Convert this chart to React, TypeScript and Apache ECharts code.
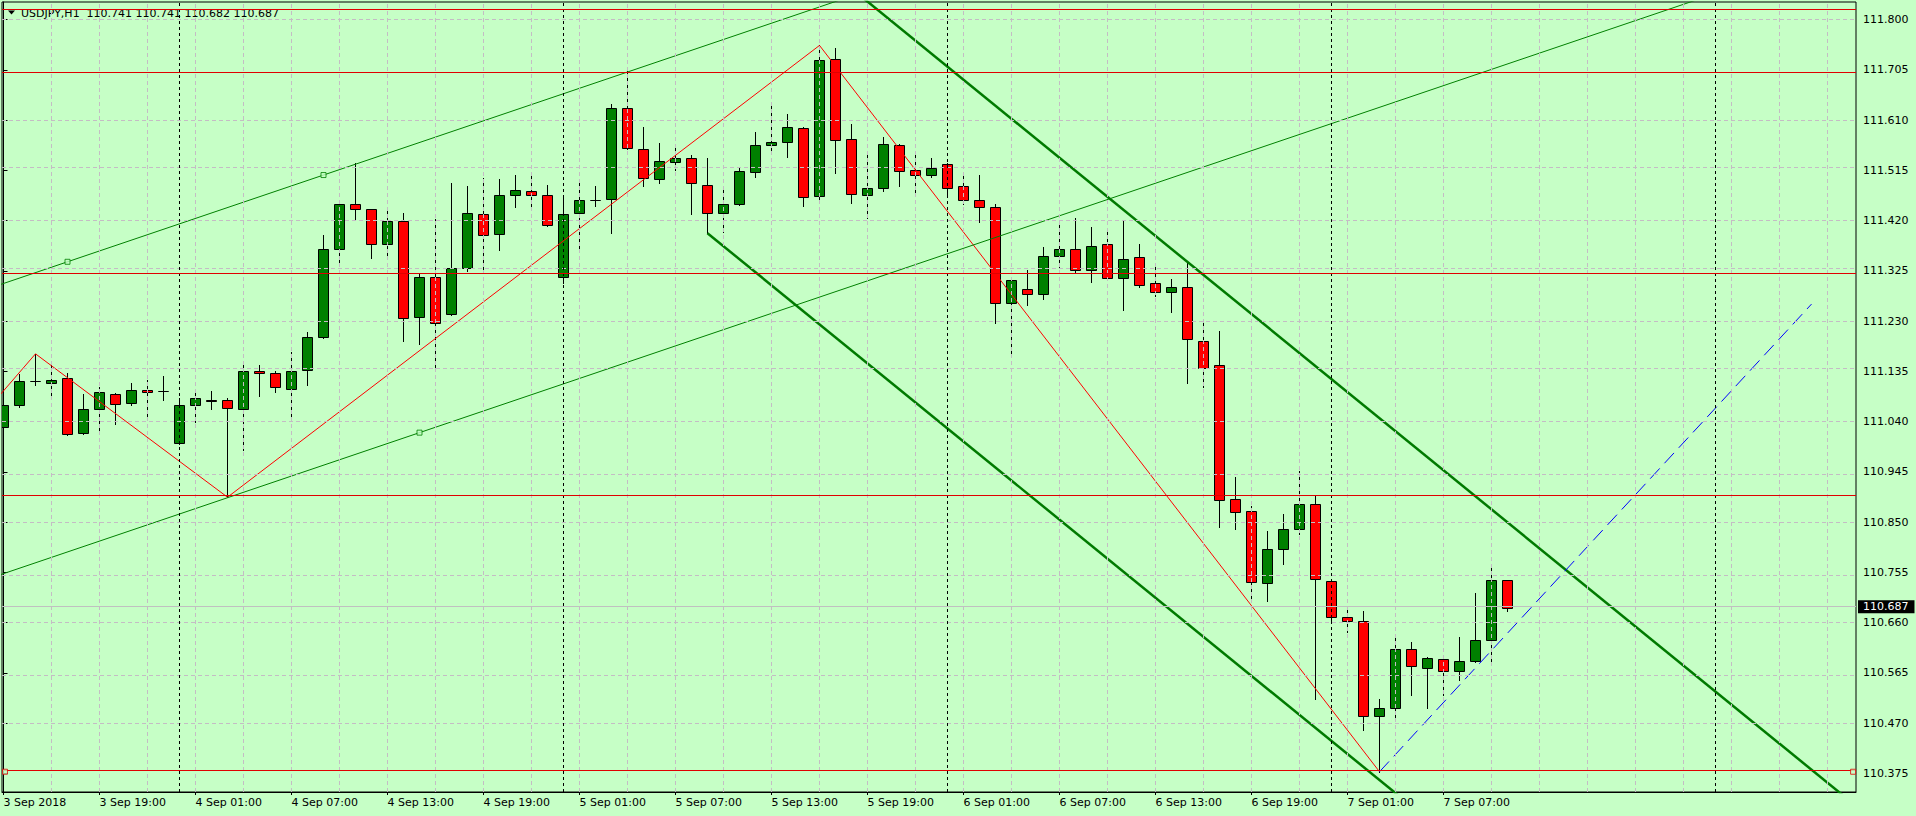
import React, { useEffect, useRef } from "react";
import * as echarts from "echarts";

// ---- data (USDJPY H1, hours counted from 3 Sep 2018 13:00) ----
const TITLE = "USDJPY,H1  110.741 110.741 110.682 110.687";

const opens = [
  111.030, 111.071, 111.116, 111.113, 111.122, 111.018, 111.063, 111.093, 111.076, 111.099,
  111.097, 110.999, 111.071, 111.081, 111.080, 111.063, 111.135, 111.131, 111.101, 111.137,
  111.199, 111.367, 111.451, 111.441, 111.375, 111.420, 111.237, 111.313, 111.243, 111.330,
  111.432, 111.394, 111.468, 111.475, 111.469, 111.313, 111.434, 111.458, 111.460, 111.632,
  111.556, 111.498, 111.530, 111.539, 111.488, 111.434, 111.451, 111.511, 111.562, 111.568,
  111.594, 111.466, 111.725, 111.575, 111.469, 111.481, 111.562, 111.515, 111.507, 111.526,
  111.486, 111.458, 111.445, 111.265, 111.290, 111.281, 111.352, 111.367, 111.326, 111.375,
  111.312, 111.351, 111.301, 111.285, 111.294, 111.193, 111.146, 110.893, 110.871, 110.734,
  110.799, 110.837, 110.885, 110.738, 110.670, 110.663, 110.484, 110.499, 110.610, 110.575,
  110.591, 110.568, 110.587, 110.627, 110.741,
];
const highs = [
  111.118, 111.130, 111.168, 111.146, 111.132, 111.093, 111.106, 111.094, 111.112, 111.118,
  111.127, 111.084, 111.101, 111.097, 111.084, 111.146, 111.146, 111.135, 111.171, 111.210,
  111.392, 111.458, 111.528, 111.442, 111.445, 111.435, 111.320, 111.422, 111.490, 111.485,
  111.500, 111.498, 111.507, 111.504, 111.487, 111.469, 111.494, 111.485, 111.641, 111.708,
  111.596, 111.566, 111.560, 111.543, 111.538, 111.483, 111.519, 111.587, 111.638, 111.621,
  111.596, 111.751, 111.747, 111.602, 111.551, 111.577, 111.564, 111.543, 111.539, 111.528,
  111.507, 111.507, 111.451, 111.311, 111.326, 111.370, 111.418, 111.424, 111.408, 111.400,
  111.419, 111.375, 111.332, 111.309, 111.341, 111.230, 111.211, 110.935, 110.881, 110.834,
  110.865, 110.947, 110.901, 110.740, 110.683, 110.682, 110.516, 110.631, 110.623, 110.594,
  110.597, 110.633, 110.716, 110.767, 110.741,
];
const lows = [
  111.014, 111.068, 111.110, 111.091, 111.014, 111.016, 111.021, 111.035, 111.071, 111.049,
  111.081, 110.998, 111.040, 111.063, 110.897, 110.987, 111.089, 111.095, 111.051, 111.110,
  111.197, 111.339, 111.423, 111.350, 111.348, 111.193, 111.187, 111.140, 111.242, 111.324,
  111.321, 111.365, 111.445, 111.444, 111.409, 111.301, 111.365, 111.447, 111.396, 111.556,
  111.486, 111.490, 111.515, 111.432, 111.396, 111.399, 111.449, 111.502, 111.551, 111.541,
  111.447, 111.454, 111.509, 111.454, 111.424, 111.475, 111.486, 111.471, 111.502, 111.464,
  111.451, 111.418, 111.227, 111.165, 111.261, 111.271, 111.331, 111.323, 111.304, 111.307,
  111.250, 111.295, 111.278, 111.248, 111.112, 111.105, 110.840, 110.836, 110.705, 110.700,
  110.770, 110.828, 110.515, 110.659, 110.642, 110.457, 110.378, 110.475, 110.524, 110.498,
  110.524, 110.551, 110.585, 110.588, 110.682,
];
const closes = [
  111.071, 111.116, 111.116, 111.118, 111.016, 111.063, 111.095, 111.074, 111.099, 111.095,
  111.097, 111.071, 111.084, 111.078, 111.065, 111.135, 111.131, 111.105, 111.135, 111.199,
  111.367, 111.451, 111.441, 111.375, 111.420, 111.235, 111.313, 111.227, 111.331, 111.434,
  111.392, 111.469, 111.477, 111.469, 111.411, 111.432, 111.458, 111.459, 111.632, 111.558,
  111.500, 111.532, 111.539, 111.490, 111.434, 111.452, 111.513, 111.562, 111.568, 111.596,
  111.464, 111.723, 111.572, 111.471, 111.481, 111.564, 111.513, 111.507, 111.520, 111.481,
  111.458, 111.445, 111.265, 111.307, 111.281, 111.352, 111.367, 111.326, 111.371, 111.312,
  111.348, 111.299, 111.285, 111.294, 111.196, 111.141, 110.891, 110.869, 110.736, 110.799,
  110.837, 110.885, 110.742, 110.670, 110.663, 110.484, 110.498, 110.610, 110.578, 110.593,
  110.568, 110.587, 110.627, 110.740, 110.687,
];

const timeTickHours = [0, 6, 12, 18, 24, 30, 36, 42, 48, 54, 60, 66, 72, 78, 84, 90];
const timeTickLabels = [
  "3 Sep 2018", "3 Sep 19:00", "4 Sep 01:00", "4 Sep 07:00", "4 Sep 13:00", "4 Sep 19:00",
  "5 Sep 01:00", "5 Sep 07:00", "5 Sep 13:00", "5 Sep 19:00", "6 Sep 01:00", "6 Sep 07:00",
  "6 Sep 13:00", "6 Sep 19:00", "7 Sep 01:00", "7 Sep 07:00",
];
const priceTicks = [
  110.375, 110.47, 110.565, 110.66, 110.755, 110.85, 110.945, 111.04,
  111.135, 111.23, 111.325, 111.42, 111.515, 111.61, 111.705, 111.8,
];
const gridHours = [
  3, 6, 9, 12, 15, 18, 21, 24, 27, 30, 33, 36, 39, 42, 45, 48, 51, 54, 57, 60,
  63, 66, 69, 72, 75, 78, 81, 84, 87, 90, 93, 96, 99, 102, 105, 108, 111, 114,
];
const daySeparatorHours = [11, 35, 59, 83, 107];
const levelPrices = [111.823, 111.699, 111.321, 110.897, 110.378];
const bidPrice = 110.687;

const zigzagHours = [-1, 2, 14, 51, 86];
const zigzagPrices = [111.063, 111.168, 110.897, 111.751, 110.378];

// rising channel anchors: two on the upper line, one on the lower line
const upChannelHours = [4, 20, 26];
const upChannelPrices = [111.342, 111.506, 111.019];
// falling channel anchors: two on the upper line, one on the lower line
const downChannelHours = [44, 80, 44];
const downChannelPrices = [112.08, 111.194, 111.396];
// blue dashed trend line
const trendHours = [86, 113];
const trendPrices = [110.378, 111.262];
// selection handles of the 110.378 level
const levelHandleHours = [0.09, 115.6];

const FONT = "DejaVu Sans";
const BG = "#C6FFC6";
const GRID_COLOR = "#C4BCC4";

function rayPoints(t0: number, p0: number, slope: number, from: number, to: number) {
  return [
    [from, p0 + slope * (from - t0)],
    [to, p0 + slope * (to - t0)],
  ];
}

export default function App() {
  const ref = useRef<HTMLDivElement>(null);

  useEffect(() => {
    if (!ref.current) return;
    const chart = echarts.init(ref.current, undefined, { renderer: "svg" });

    const candles = opens.map((o, i) => [i, o, highs[i], lows[i], closes[i]]);

    const upSlope = (upChannelPrices[1] - upChannelPrices[0]) / (upChannelHours[1] - upChannelHours[0]);
    const dnSlope = (downChannelPrices[1] - downChannelPrices[0]) / (downChannelHours[1] - downChannelHours[0]);

    const lineA = rayPoints(upChannelHours[0], upChannelPrices[0], upSlope, -2, 60);
    const lineB = rayPoints(upChannelHours[2], upChannelPrices[2], upSlope, -2, 130);
    const lineC = rayPoints(downChannelHours[0], downChannelPrices[0], dnSlope, downChannelHours[0], 130);
    const lineD = rayPoints(downChannelHours[2], downChannelPrices[2], dnSlope, downChannelHours[2], 130);

    const noLabel = { show: false };
    const option: any = {
      animation: false,
      backgroundColor: BG,
      textStyle: { fontFamily: FONT },
      grid: {
        left: 2,
        top: 2,
        width: 1854,
        height: 790,
        show: true,
        borderColor: "#000",
        borderWidth: 1,
        backgroundColor: "transparent",
      },
      xAxis: {
        type: "value",
        min: -0.09375,
        max: 115.78125,
        position: "bottom",
        axisLine: { show: true, lineStyle: { color: "#000", width: 1 } },
        axisTick: {
          show: true,
          customValues: timeTickHours,
          length: 3,
          lineStyle: { color: "#000" },
        },
        axisLabel: {
          show: true,
          customValues: timeTickHours,
          formatter: (v: number) => {
            const i = timeTickHours.indexOf(Math.round(v));
            return i >= 0 ? timeTickLabels[i] : "";
          },
          align: "left",
          color: "#000",
          fontFamily: FONT,
          fontSize: 11,
          margin: 5,
        },
        splitLine: { show: false },
      },
      yAxis: {
        type: "value",
        position: "right",
        min: 110.3397,
        max: 111.8331,
        axisLine: { show: true, lineStyle: { color: "#000", width: 1 } },
        axisTick: {
          show: true,
          customValues: priceTicks,
          length: 4,
          lineStyle: { color: "#000" },
        },
        axisLabel: {
          show: true,
          customValues: priceTicks,
          formatter: (v: number) => v.toFixed(3),
          align: "left",
          color: "#000",
          fontFamily: FONT,
          fontSize: 11,
          margin: 7,
        },
        splitLine: { show: false },
      },
      graphic: [
        {
          type: "polygon",
          shape: { points: [[8, 10.5], [15, 10.5], [11.5, 14.5]] },
          style: { fill: "#000" },
        },
        {
          type: "text",
          x: 21,
          y: 13,
          style: {
            text: TITLE,
            fontFamily: FONT,
            fontSize: 11,
            fill: "#000",
            verticalAlign: "middle",
            align: "left",
          },
        },
      ],
      series: [
        {
          name: "grid",
          type: "line",
          data: [],
          z: 1,
          silent: true,
          markLine: {
            silent: true,
            symbol: ["none", "none"],
            label: noLabel,
            lineStyle: { color: GRID_COLOR, type: [4, 3], width: 1 },
            data: [
              ...gridHours.map((h) => ({ xAxis: h })),
              ...priceTicks.map((p) => ({ yAxis: p })),
            ],
          },
        },
        {
          name: "separators",
          type: "line",
          data: [],
          z: 1,
          silent: true,
          markLine: {
            silent: true,
            symbol: ["none", "none"],
            label: noLabel,
            lineStyle: { color: "#000", type: [3, 3], width: 1 },
            data: daySeparatorHours.map((h) => ({ xAxis: h })),
          },
        },
        {
          name: "bid",
          type: "line",
          data: [],
          z: 1,
          silent: true,
          markLine: {
            silent: true,
            symbol: ["none", "none"],
            lineStyle: { color: "#C0C0C0", type: "solid", width: 1 },
            label: {
              show: true,
              position: "end",
              formatter: bidPrice.toFixed(3),
              color: "#fff",
              backgroundColor: "#000",
              fontFamily: FONT,
              fontSize: 11,
              padding: [1, 6, 1, 5],
              distance: 2,
            },
            data: [{ yAxis: bidPrice }],
          },
        },
        {
          name: "candles",
          type: "custom",
          z: 2,
          clip: true,
          silent: true,
          encode: { x: 0, y: [1, 2, 3, 4] },
          data: candles,
          renderItem: (params: any, api: any) => {
            const t = api.value(0);
            const o = api.value(1);
            const h = api.value(2);
            const l = api.value(3);
            const c = api.value(4);
            const pO = api.coord([t, o]);
            const pC = api.coord([t, c]);
            const pH = api.coord([t, h]);
            const pL = api.coord([t, l]);
            const x = Math.floor(pO[0]) + 0.5;
            const top = Math.round(Math.min(pO[1], pC[1])) + 0.5;
            const bot = Math.round(Math.max(pO[1], pC[1])) + 0.5;
            const up = c >= o;
            return {
              type: "group",
              children: [
                {
                  type: "line",
                  shape: { x1: x, y1: Math.round(pH[1]), x2: x, y2: Math.round(pL[1]) + 1 },
                  style: { stroke: "#000", lineWidth: 1 },
                },
                {
                  type: "rect",
                  shape: { x: x - 5, y: top, width: 10, height: bot - top },
                  style: { fill: up ? "#008000" : "#FF0000", stroke: "#000", lineWidth: 1 },
                },
              ],
            };
          },
        },
        {
          name: "levels",
          type: "line",
          data: [],
          z: 4,
          silent: true,
          markLine: {
            silent: true,
            symbol: ["none", "none"],
            label: noLabel,
            lineStyle: { color: "#E00000", type: "solid", width: 1 },
            data: levelPrices.map((p) => ({ yAxis: p })),
          },
        },
        {
          name: "zigzag",
          type: "line",
          z: 4,
          clip: true,
          silent: true,
          symbol: "none",
          lineStyle: { color: "#FF0000", width: 1 },
          data: zigzagHours.map((h, i) => [h, zigzagPrices[i]]),
        },
        {
          name: "channelUpper",
          type: "line",
          z: 4,
          clip: true,
          silent: true,
          symbol: "none",
          lineStyle: { color: "#008000", width: 1 },
          data: lineA,
        },
        {
          name: "channelLower",
          type: "line",
          z: 4,
          clip: true,
          silent: true,
          symbol: "none",
          lineStyle: { color: "#008000", width: 1 },
          data: lineB,
        },
        {
          name: "downUpper",
          type: "line",
          z: 4,
          clip: true,
          silent: true,
          symbol: "none",
          lineStyle: { color: "#007A00", width: 2.5 },
          data: lineC,
        },
        {
          name: "downLower",
          type: "line",
          z: 4,
          clip: true,
          silent: true,
          symbol: "none",
          lineStyle: { color: "#007A00", width: 2.5 },
          data: lineD,
        },
        {
          name: "trend",
          type: "line",
          z: 4,
          clip: true,
          silent: true,
          symbol: "none",
          lineStyle: { color: "#0000FF", width: 1, type: [14, 7] },
          data: trendHours.map((h, i) => [h, trendPrices[i]]),
        },
        {
          name: "channelHandles",
          type: "scatter",
          z: 5,
          silent: true,
          symbol: "rect",
          symbolSize: 5,
          itemStyle: { color: BG, borderColor: "#008000", borderWidth: 1 },
          data: upChannelHours.map((h, i) => [h, upChannelPrices[i]]),
        },
        {
          name: "levelHandles",
          type: "scatter",
          z: 5,
          silent: true,
          symbol: "rect",
          symbolSize: 5,
          itemStyle: { color: BG, borderColor: "#E00000", borderWidth: 1 },
          data: levelHandleHours.map((h) => [h, levelPrices[4]]),
        },
      ],
    };

    chart.setOption(option);
    return () => {
      chart.dispose();
    };
  }, []);

  return (
    <div
      ref={ref}
      style={{ position: "fixed", left: 0, top: 0, width: 1916, height: 816 }}
    />
  );
}
